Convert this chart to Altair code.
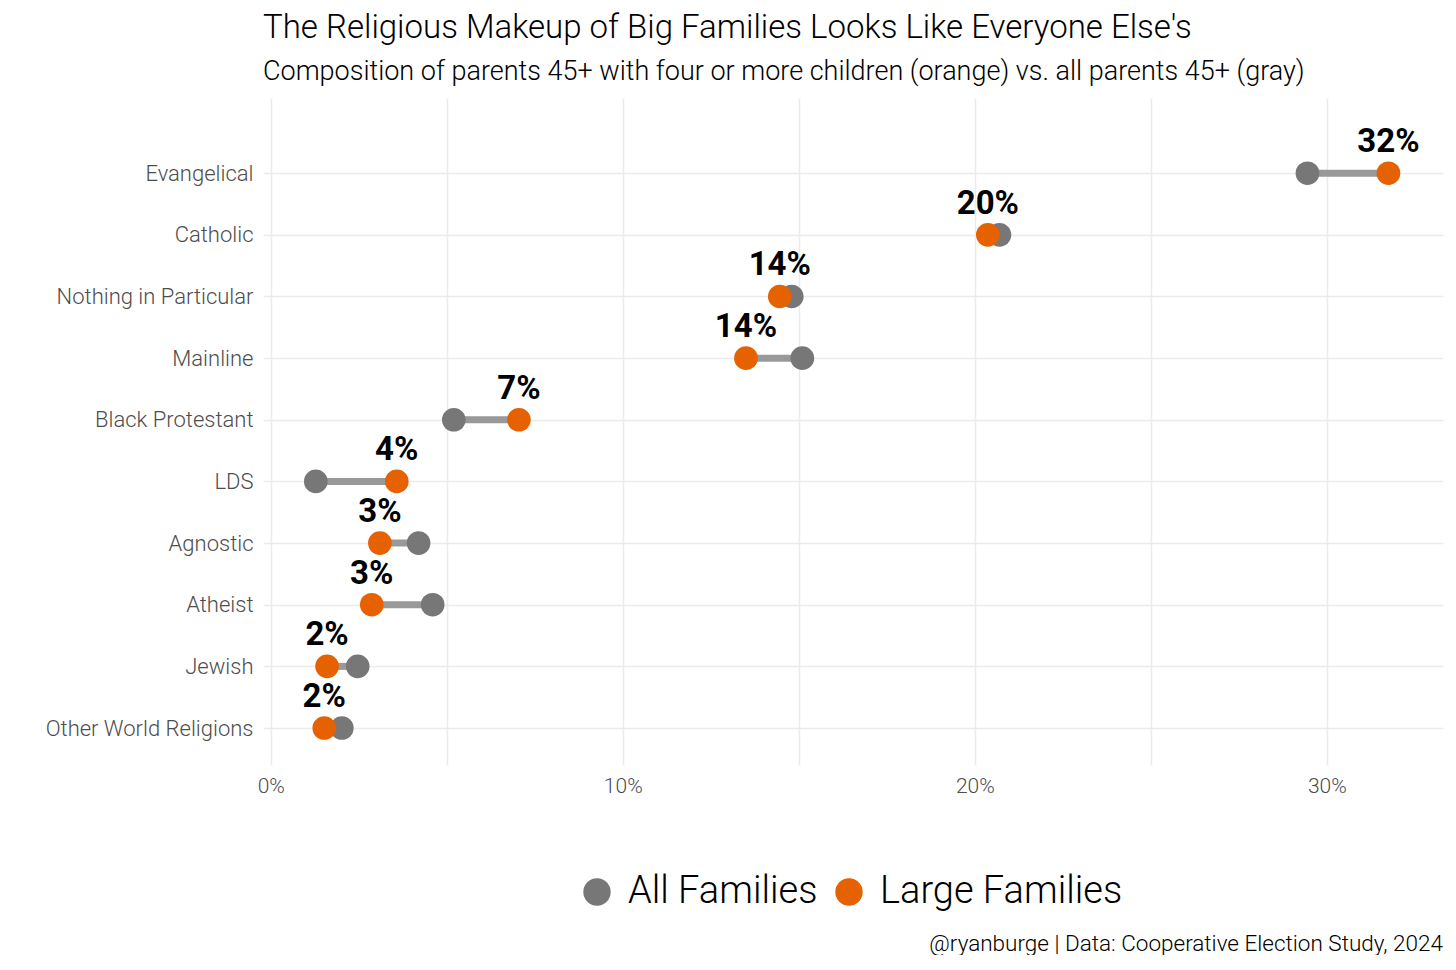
import altair as alt
import pandas as pd

religions = ["Evangelical", "Catholic", "Nothing in Particular", "Mainline",
             "Black Protestant", "LDS", "Agnostic", "Atheist", "Jewish",
             "Other World Religions"]
all_families = [29.45, 20.7, 14.8, 15.1, 5.2, 1.28, 4.2, 4.6, 2.47, 2.02]
large_families = [31.75, 20.37, 14.46, 13.5, 7.05, 3.58, 3.1, 2.87, 1.6, 1.52]
value_labels = ["32%", "20%", "14%", "14%", "7%", "4%", "3%", "3%", "2%", "2%"]
x_ticks = [0, 5, 10, 15, 20, 25, 30]
series = ["All Families", "Large Families"]
colors = ["#777777", "#E66100"]

FONT = "Roboto, Noto Sans, sans-serif"

n = len(religions)
ranks = [n - 1 - i for i in range(n)]

wide = pd.DataFrame({
    "religion": religions,
    "rank": ranks,
    "all": all_families,
    "large": large_families,
    "label": value_labels,
})
long = pd.concat([
    pd.DataFrame({"religion": religions, "rank": ranks, "value": all_families, "type": series[0]}),
    pd.DataFrame({"religion": religions, "rank": ranks, "value": large_families, "type": series[1]}),
])

label_map = "{" + ",".join(f"'{r}':'{name}'" for r, name in zip(ranks, religions)) + "}"

x_scale = alt.Scale(domain=[-0.22, 33.3], nice=False, zero=False)
y_scale = alt.Scale(domain=[-0.6, 10.22], nice=False, zero=False)

x_axis = alt.Axis(values=x_ticks, labelExpr="datum.value % 10 == 0 ? datum.value + '%' : ''",
                  title=None, domain=False, ticks=False, grid=True, gridColor="#EBEBEB",
                  gridWidth=1.5, labelFont=FONT, labelFontSize=21, labelFontWeight=300,
                  labelColor="#4D4D4D", labelPadding=10)
y_axis = alt.Axis(values=ranks, labelExpr=label_map + "[datum.value]",
                  title=None, domain=False, ticks=False, grid=True, gridColor="#EBEBEB",
                  gridWidth=1.5, labelFont=FONT, labelFontSize=22, labelFontWeight=300,
                  labelColor="#4D4D4D", labelPadding=10, labelLimit=0)

base_w = alt.Chart(wide)

rods = base_w.mark_rule(strokeWidth=7, color="#999999").encode(
    x=alt.X("all:Q", scale=x_scale, axis=x_axis),
    x2="large:Q",
    y=alt.Y("rank:Q", scale=y_scale, axis=y_axis),
)

points = alt.Chart(long).mark_circle(size=560, opacity=1).encode(
    x=alt.X("value:Q", scale=x_scale),
    y=alt.Y("rank:Q", scale=y_scale),
    color=alt.Color("type:N", scale=alt.Scale(domain=series, range=colors),
                    legend=alt.Legend(title=None, orient="none", direction="horizontal",
                                      legendX=315, legendY=775, symbolSize=750,
                                      symbolType="circle", labelFont=FONT,
                                      labelFontSize=38, labelFontWeight=300,
                                      labelColor="#000000", labelLimit=0,
                                      columnPadding=12, labelOffset=12,
                                      symbolStrokeWidth=0)),
)

labels = base_w.mark_text(font=FONT, fontSize=33, fontWeight="bold", dy=-31,
                          color="#000000").encode(
    x=alt.X("large:Q", scale=x_scale),
    y=alt.Y("rank:Q", scale=y_scale),
    text="label:N",
)

caption = alt.Chart(pd.DataFrame({"t": ["@ryanburge | Data: Cooperative Election Study, 2024"]})).mark_text(
    font=FONT, fontSize=22.5, fontWeight=300, align="right", baseline="middle", color="#000000"
).encode(
    x=alt.value(1180),
    y=alt.value(846),
    text="t:N",
)

chart = alt.layer(rods, points, labels, caption).properties(
    width=1180,
    height=667,
    background="white",
    padding={"left": 255, "top": 90, "right": 5, "bottom": 190},
    autosize=alt.AutoSizeParams(type="none"),
    title=alt.TitleParams(
        "The Religious Makeup of Big Families Looks Like Everyone Else's",
        subtitle="Composition of parents 45+ with four or more children (orange) vs. all parents 45+ (gray)",
        anchor="start", frame="group", font=FONT, fontSize=33, fontWeight=300, color="#000000",
        subtitleFont=FONT, subtitleFontSize=27, subtitleFontWeight=300, subtitleColor="#000000",
        subtitlePadding=14, offset=13,
    ),
).configure_view(stroke="transparent", strokeWidth=0)

chart.save("out.html", embed_options={"renderer": "svg", "actions": False})
